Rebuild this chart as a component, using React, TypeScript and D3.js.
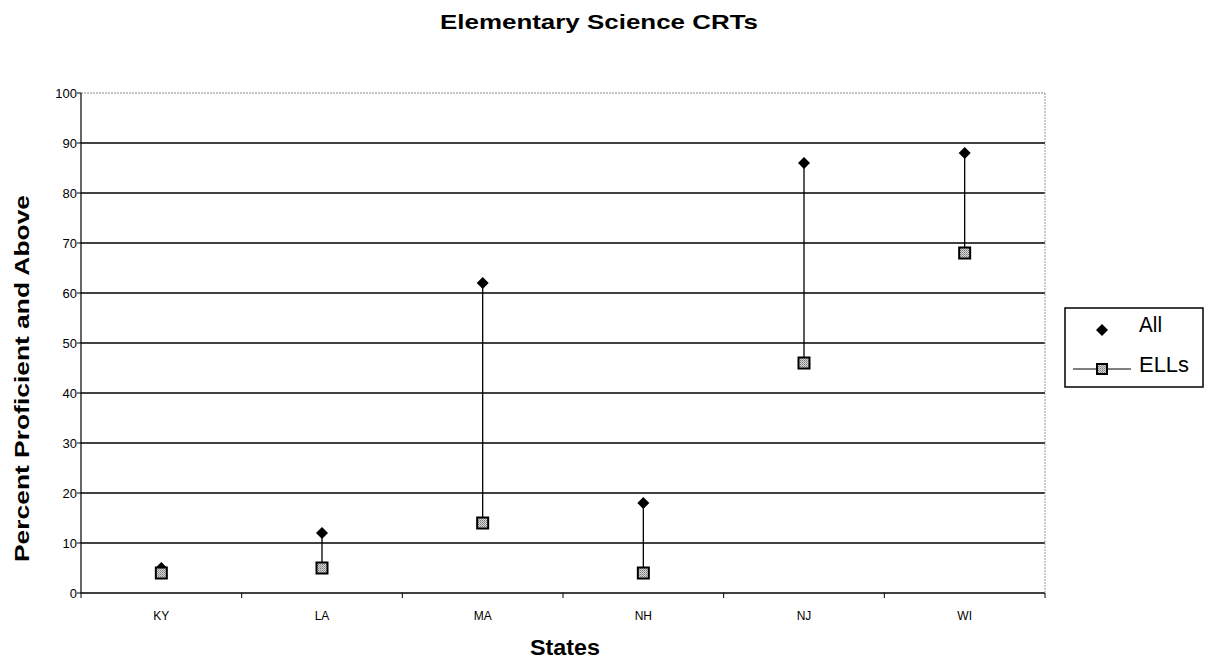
import React from "react";
import * as d3 from "d3";

const states = ["KY", "LA", "MA", "NH", "NJ", "WI"];
const allValues = [5, 12, 62, 18, 86, 88];
const ellValues = [4, 5, 14, 4, 46, 68];
const yTicks = [0, 10, 20, 30, 40, 50, 60, 70, 80, 90, 100];

const W = 1207;
const H = 664;
const M = { left: 81, right: 1045, top: 93, bottom: 593 };

export default function App() {
  const x = d3.scaleBand<string>().domain(states).range([M.left, M.right]);
  const y = d3.scaleLinear().domain([0, 100]).range([M.bottom, M.top]);
  const font = "Arial, 'Liberation Sans', Helvetica, sans-serif";
  const cx = (s: string) => (x(s) as number) + x.bandwidth() / 2;
  const boundaries = states.map((s) => x(s) as number).concat([M.right]);

  return (
    <svg width={W} height={H} style={{ position: "absolute", left: 0, top: 0 }} fontFamily={font}>
      <defs>
        <pattern id="hatch" width="2" height="2" patternUnits="userSpaceOnUse">
          <rect width="2" height="2" fill="#d8d8d8" />
          <rect width="1" height="1" fill="#777" />
          <rect x="1" y="1" width="1" height="1" fill="#999" />
        </pattern>
      </defs>
      <rect width={W} height={H} fill="#fff" />
      <text
        x={440}
        y={29}
        fontSize={21}
        fontWeight="bold"
        textLength={318}
        lengthAdjust="spacingAndGlyphs"
      >
        Elementary Science CRTs
      </text>

      {/* gridlines */}
      {yTicks.map((t) => (
        <line
          key={t}
          x1={M.left}
          x2={M.right}
          y1={y(t)}
          y2={y(t)}
          stroke={t === 100 ? "#888" : "#000"}
          strokeWidth={t === 100 ? 1 : 1.5}
          strokeDasharray={t === 100 ? "2,1" : undefined}
        />
      ))}
      <line x1={M.right} x2={M.right} y1={M.top} y2={M.bottom} stroke="#999" strokeWidth={1} strokeDasharray="2,1" />
      <line x1={M.left} x2={M.left} y1={M.top} y2={M.bottom} stroke="#000" strokeWidth={1.2} />
      {yTicks.map((t) => (
        <g key={"yt" + t}>
          <line x1={M.left - 4} x2={M.left} y1={y(t)} y2={y(t)} stroke="#000" />
          <text x={M.left - 4} y={y(t)} dy="0.35em" textAnchor="end" fontSize={13}>
            {t}
          </text>
        </g>
      ))}
      {boundaries.map((b, i) => (
        <line key={"xt" + i} x1={b} x2={b} y1={M.bottom} y2={M.bottom + 5} stroke="#000" />
      ))}
      {states.map((s) => (
        <text key={"xl" + s} x={cx(s)} y={M.bottom + 27} textAnchor="middle" fontSize={12}>
          {s}
        </text>
      ))}

      {states.map((s, i) => (
        <line
          key={"dl" + s}
          x1={cx(s)}
          x2={cx(s)}
          y1={y(allValues[i])}
          y2={y(ellValues[i])}
          stroke="#000"
          strokeWidth={1.3}
        />
      ))}
      {states.map((s, i) => (
        <path
          key={"a" + s}
          d={`M${cx(s)},${y(allValues[i]) - 6}L${cx(s) + 6},${y(allValues[i])}L${cx(s)},${y(allValues[i]) + 6}L${cx(s) - 6},${y(allValues[i])}Z`}
          fill="#000"
        />
      ))}
      {states.map((s, i) => (
        <rect
          key={"e" + s}
          x={cx(s) - 5.5}
          y={y(ellValues[i]) - 5.5}
          width={11}
          height={11}
          fill="url(#hatch)"
          stroke="#000"
          strokeWidth={2}
        />
      ))}

      <text
        transform={`translate(29,${(195 + 562) / 2}) rotate(-90)`}
        textAnchor="middle"
        fontSize={21}
        fontWeight="bold"
        textLength={367}
        lengthAdjust="spacingAndGlyphs"
      >
        Percent Proficient and Above
      </text>
      <text x={530} y={655} fontSize={22} fontWeight="bold" textLength={70} lengthAdjust="spacingAndGlyphs">
        States
      </text>

      {/* legend */}
      <rect x={1065} y={308} width={138} height={79} fill="#fff" stroke="#000" strokeWidth={1.5} />
      <path d="M1102,324L1108,330L1102,336L1096,330Z" fill="#000" />
      <text x={1139} y={332} fontSize={22} textLength={23} lengthAdjust="spacingAndGlyphs">
        All
      </text>
      <line x1={1073} x2={1131} y1={369} y2={369} stroke="#000" strokeWidth={1} />
      <rect x={1097} y={364} width={10} height={10} fill="url(#hatch)" stroke="#000" strokeWidth={2} />
      <text x={1139} y={372} fontSize={22} textLength={50} lengthAdjust="spacingAndGlyphs">
        ELLs
      </text>
    </svg>
  );
}
